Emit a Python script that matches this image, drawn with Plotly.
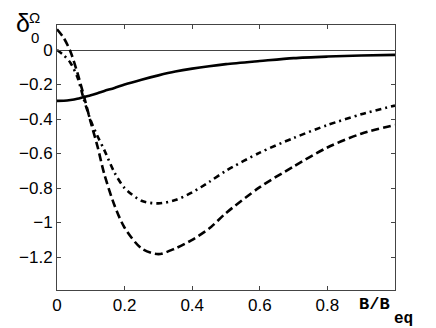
import plotly.graph_objects as go

# Data
x_vals = [0, 0.02, 0.04, 0.06, 0.08, 0.1, 0.12, 0.14, 0.17, 0.2, 0.25, 0.3,
          0.35, 0.4, 0.45, 0.5, 0.6, 0.7, 0.8, 0.9, 1.0]
solid_vals = [-0.295, -0.294, -0.29, -0.283, -0.272, -0.262, -0.25, -0.237, -0.22,
              -0.2, -0.172, -0.147, -0.125, -0.108, -0.094, -0.082, -0.064, -0.047,
              -0.038, -0.032, -0.028]
dashed_vals = [0.12, 0.07, -0.01, -0.13, -0.27, -0.42, -0.56, -0.72, -0.9, -1.03,
               -1.15, -1.183, -1.15, -1.1, -1.035, -0.945, -0.795, -0.675, -0.565,
               -0.485, -0.435]
dashdot_vals = [0.0, -0.03, -0.075, -0.155, -0.29, -0.41, -0.5, -0.58, -0.71, -0.8,
                -0.874, -0.889, -0.87, -0.825, -0.765, -0.7, -0.595, -0.51, -0.435,
                -0.373, -0.322]
x_ticks = [0, 0.2, 0.4, 0.6, 0.8]
x_tick_text = ["0", "0.2", "0.4", "0.6", "0.8"]
y_ticks = [0, -0.2, -0.4, -0.6, -0.8, -1, -1.2]
y_tick_text = ["0", "\u22120.2", "\u22120.4", "\u22120.6", "\u22120.8", "\u22121", "\u22121.2"]

fig = go.Figure()
fig.add_trace(go.Scatter(x=x_vals, y=solid_vals, mode="lines",
                         line=dict(color="black", width=2.6, shape="spline", smoothing=0.8)))
fig.add_trace(go.Scatter(x=x_vals, y=dashed_vals, mode="lines",
                         line=dict(color="black", width=2.6, dash="8px,4px",
                                   shape="spline", smoothing=0.8)))
fig.add_trace(go.Scatter(x=x_vals, y=dashdot_vals, mode="lines",
                         line=dict(color="black", width=2.6, dash="6px,4px,2px,4px",
                                   shape="spline", smoothing=0.8)))

W, H = 436, 328
L, R, T, B = 57, 41, 25, 38
pw, ph = W - L - R, H - T - B

def px(xp):
    return (xp - L) / pw

def py(yp):
    return (H - B - yp) / ph

font = dict(family="Liberation Sans, Arial, sans-serif", size=17, color="black")
axis_common = dict(showgrid=False, showline=True, linecolor="#444", linewidth=1,
                   mirror="ticks", ticks="inside", ticklen=4, tickcolor="#444",
                   tickfont=font)

fig.update_layout(
    width=W, height=H, margin=dict(l=L, r=R, t=T, b=B),
    plot_bgcolor="white", paper_bgcolor="white", showlegend=False,
    xaxis=dict(range=[0, 1], tickvals=x_ticks, ticktext=x_tick_text,
               zeroline=False, **axis_common),
    yaxis=dict(range=[-1.391, 0.145], tickvals=y_ticks, ticktext=y_tick_text,
               zeroline=True, zerolinecolor="#444", zerolinewidth=1,
               **axis_common),
)

ann = [
    dict(text="\u03b4", x=px(22.5), y=py(23.5), size=25),
    dict(text="\u03a9", x=px(34.5), y=py(17), size=15),
    dict(text="0", x=px(34.5), y=py(37), size=15),
]
for a in ann:
    fig.add_annotation(text=a["text"], x=a["x"], y=a["y"], xref="paper", yref="paper",
                       xanchor="center", yanchor="middle", showarrow=False,
                       font=dict(family="Liberation Sans, Arial, sans-serif",
                                 size=a["size"], color="black"))
fig.add_annotation(text="<b>B/B</b>", x=px(374), y=py(304), xref="paper", yref="paper",
                   xanchor="center", yanchor="middle", showarrow=False,
                   font=dict(family="Liberation Mono, Courier New, monospace", size=17,
                             color="black"))
fig.add_annotation(text="<b>eq</b>", x=px(403.5), y=py(318.5), xref="paper", yref="paper",
                   xanchor="center", yanchor="middle", showarrow=False,
                   font=dict(family="Liberation Mono, Courier New, monospace", size=16,
                             color="black"))

fig.write_html("out.html", config={"displayModeBar": False},
               post_script="document.body.style.margin='0';document.body.style.overflow='hidden';")
